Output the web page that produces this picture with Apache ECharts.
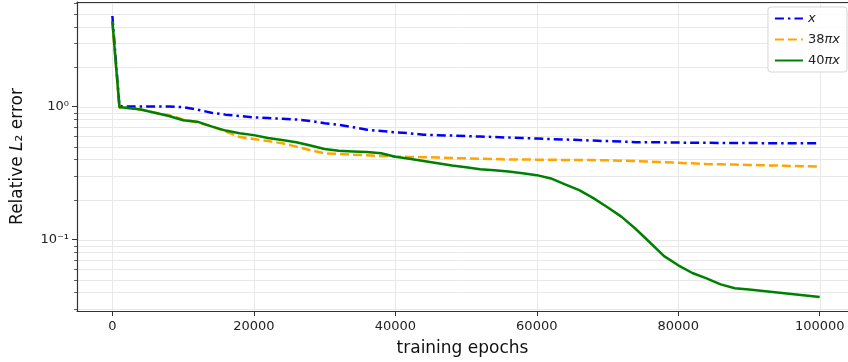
<!DOCTYPE html>
<html>
<head>
<meta charset="utf-8">
<script src="https://cdn.jsdelivr.net/npm/echarts@6/dist/echarts.min.js"></script>
<style>
html,body{margin:0;padding:0;background:#fff;}
#chart{width:848px;height:362px;}
</style>
</head>
<body>
<div id="chart"></div>
<script>
// 横轴：训练轮数
var epochs = [0, 1000, 2000, 4000, 6000, 8000, 10000, 12000, 14000, 16000, 18000,
  20000, 22000, 24000, 26000, 28000, 30000, 32000, 34000, 36000, 38000,
  40000, 42000, 44000, 46000, 48000, 50000, 52000, 54000, 56000, 58000,
  60000, 62000, 64000, 66000, 68000, 70000, 72000, 74000, 76000, 78000,
  80000, 82000, 84000, 86000, 88000, 90000, 92000, 94000, 96000, 98000, 100000];
// x
var errX = [4.8, 1.01, 1.0, 1.0, 1.0, 1.0, 0.99, 0.95, 0.9, 0.87, 0.85,
  0.83, 0.82, 0.81, 0.80, 0.78, 0.75, 0.73, 0.70, 0.67, 0.655,
  0.64, 0.63, 0.615, 0.61, 0.605, 0.60, 0.595, 0.59, 0.585, 0.58,
  0.575, 0.57, 0.565, 0.56, 0.555, 0.55, 0.545, 0.54, 0.54, 0.538,
  0.536, 0.535, 0.534, 0.533, 0.532, 0.532, 0.531, 0.531, 0.53, 0.53, 0.53];
// 38πx
var err38 = [4.3, 0.98, 0.975, 0.95, 0.9, 0.86, 0.80, 0.76, 0.71, 0.65, 0.59,
  0.57, 0.55, 0.53, 0.50, 0.47, 0.445, 0.44, 0.435, 0.43, 0.425,
  0.42, 0.418, 0.416, 0.414, 0.41, 0.408, 0.405, 0.403, 0.40, 0.40,
  0.399, 0.398, 0.397, 0.397, 0.396, 0.394, 0.392, 0.389, 0.385, 0.382,
  0.378, 0.374, 0.37, 0.368, 0.366, 0.364, 0.362, 0.36, 0.358, 0.356, 0.354];
// 40πx
var err40 = [4.4, 0.99, 0.98, 0.95, 0.9, 0.85, 0.79, 0.77, 0.71, 0.66, 0.63,
  0.61, 0.58, 0.56, 0.54, 0.51, 0.48, 0.465, 0.46, 0.455, 0.445,
  0.42, 0.405, 0.39, 0.375, 0.36, 0.35, 0.338, 0.332, 0.325, 0.315,
  0.305, 0.288, 0.26, 0.235, 0.205, 0.175, 0.148, 0.12, 0.095, 0.075,
  0.064, 0.056, 0.051, 0.046, 0.043, 0.042, 0.041, 0.040, 0.039, 0.038, 0.037];

var seriesNames = ['x', '38πx', '40πx'];
var xTicks = [0, 20000, 40000, 60000, 80000, 100000];
var yTicks = [0.1, 1];
var yMinor = [0.03, 0.04, 0.05, 0.06, 0.07, 0.08, 0.09,
  0.2, 0.3, 0.4, 0.5, 0.6, 0.7, 0.8, 0.9, 2, 3, 4, 5, 6];

var xMin = -5000, xMax = 104000;
var yMin = 0.029, yMax = 6.12;

var FONT = 'DejaVu Sans';
var SUP = {'0':'⁰','1':'¹','2':'²','3':'³','-':'⁻'};

function zip(xs, ys){
  var out = [];
  for (var i = 0; i < xs.length; i++) out.push([xs[i], ys[i]]);
  return out;
}
function supText(n){
  return String(n).split('').map(function(c){ return SUP[c]; }).join('');
}

var myChart = echarts.init(document.getElementById('chart'));

// 网格线：0=竖线 1=主刻度横线 2=次刻度横线
var gridData = xTicks.map(function(v){ return [0, v]; })
  .concat(yTicks.map(function(v){ return [1, v]; }))
  .concat(yMinor.map(function(v){ return [2, v]; }));

var gridColor = '#e8e8e8';
var option = {
  animation: false,
  backgroundColor: '#fff',
  grid: {left: 77, top: 2, right: 0, bottom: 50},
  legend: {
    data: seriesNames,
    orient: 'vertical',
    right: 1,
    top: 7,
    itemWidth: 28,
    itemHeight: 10,
    itemGap: 8,
    padding: [5, 7, 5, 6],
    borderColor: '#d6d6d6',
    borderWidth: 1,
    borderRadius: 3,
    backgroundColor: 'rgba(255,255,255,0.85)',
    itemStyle: {opacity: 0},
    textStyle: {
      fontFamily: FONT, fontSize: 13, color: '#222',
      rich: {i: {fontFamily: FONT, fontSize: 13, fontStyle: 'italic', color: '#222'}}
    },
    formatter: function(name){
      if (name === 'x') return '{i|x}';
      return name.slice(0, 2) + '{i|' + name.slice(2) + '}';
    }
  },
  xAxis: [{
    type: 'value',
    min: xMin, max: xMax,
    name: 'training epochs',
    nameLocation: 'middle',
    nameGap: 29,
    nameTextStyle: {fontFamily: FONT, fontSize: 17, color: '#111'},
    axisLine: {show: true, onZero: false, lineStyle: {color: '#333', width: 1.2}},
    axisTick: {show: true, length: 5, customValues: xTicks, lineStyle: {color: '#333'}},
    axisLabel: {
      customValues: xTicks, fontFamily: FONT, fontSize: 13, color: '#222', margin: 9,
      formatter: function(v){ return String(v); }
    },
    splitLine: {show: false}
  }, {
    type: 'value',
    position: 'top',
    min: xMin, max: xMax,
    axisLine: {show: true, onZero: false, lineStyle: {color: '#333', width: 1.2}},
    axisTick: {show: false},
    axisLabel: {show: false},
    splitLine: {show: false}
  }],
  yAxis: {
    type: 'log',
    logBase: 10,
    min: yMin, max: yMax,
    name: 'Relative {i|L}₂ error',
    nameLocation: 'middle',
    nameGap: 51,
    nameTextStyle: {
      fontFamily: FONT, fontSize: 17, color: '#111',
      rich: {i: {fontFamily: FONT, fontSize: 17, fontStyle: 'italic', color: '#111'}}
    },
    axisLine: {show: true, onZero: false, lineStyle: {color: '#333', width: 1.2}},
    axisTick: {show: true, length: 5, customValues: yTicks, lineStyle: {color: '#333'}},
    axisLabel: {
      customValues: yTicks,
      fontFamily: FONT, fontSize: 13, color: '#222', margin: 8,
      formatter: function(v){ return '10' + supText(Math.round(Math.log10(v))); }
    },
    splitLine: {show: false}
  },
  series: [{
    type: 'custom',
    silent: true,
    clip: false,
    z: 0,
    data: gridData,
    encode: {x: [], y: []},
    renderItem: function(params, api){
      var cs = params.coordSys;
      var kind = api.value(0);
      var v = api.value(1);
      var style = {stroke: gridColor, lineWidth: 1};
      if (kind === 0) {
        var px = Math.round(api.coord([v, 1])[0]) + 0.5;
        return {type: 'line', shape: {x1: px, y1: cs.y, x2: px, y2: cs.y + cs.height}, style: style};
      }
      var py = Math.round(api.coord([0, v])[1]) + 0.5;
      var children = [{type: 'line', shape: {x1: cs.x, y1: py, x2: cs.x + cs.width, y2: py}, style: style}];
      if (kind === 2) {
        children.push({type: 'line', shape: {x1: cs.x - 3, y1: py, x2: cs.x, y2: py},
          style: {stroke: '#333', lineWidth: 0.8}});
      }
      return {type: 'group', children: children};
    }
  }, {
    name: 'x',
    type: 'line',
    data: zip(epochs, errX),
    showSymbol: false,
    symbol: 'none',
    z: 3,
    lineStyle: {color: '#0000ff', width: 2.5, type: [9, 4, 2.5, 4]},
    itemStyle: {color: '#0000ff'}
  }, {
    name: '38πx',
    type: 'line',
    data: zip(epochs, err38),
    showSymbol: false,
    symbol: 'none',
    z: 4,
    lineStyle: {color: '#ffa500', width: 2.5, type: [9, 4]},
    itemStyle: {color: '#ffa500'}
  }, {
    name: '40πx',
    type: 'line',
    data: zip(epochs, err40),
    showSymbol: false,
    symbol: 'none',
    z: 5,
    lineStyle: {color: '#008000', width: 2.5},
    itemStyle: {color: '#008000'}
  }]
};
myChart.setOption(option);
</script>
</body>
</html>
